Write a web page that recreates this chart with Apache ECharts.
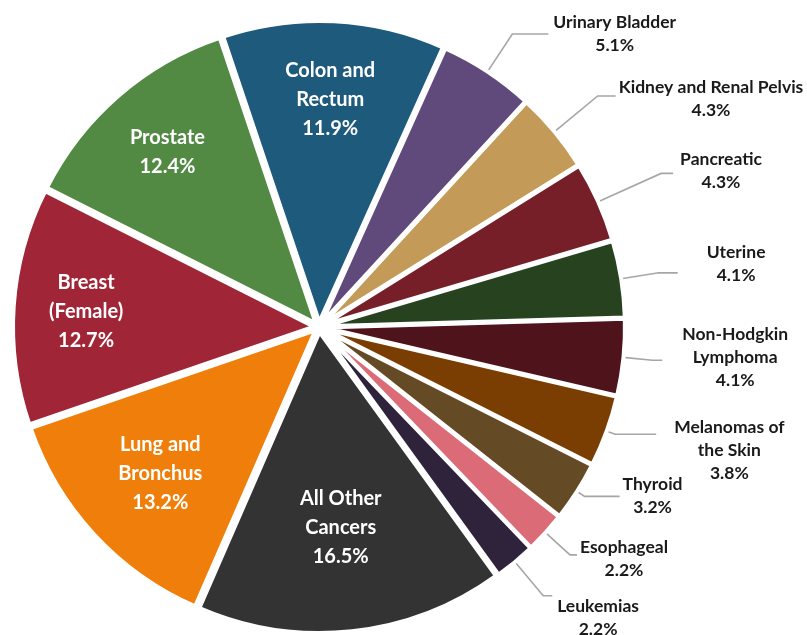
<!DOCTYPE html>
<html><head><meta charset="utf-8">
<script src="https://cdn.jsdelivr.net/npm/echarts@6/dist/echarts.min.js"></script>
<style>html,body{margin:0;padding:0;background:#fff}#c{width:807px;height:635px}</style>
</head><body><div id="c"></div>
<script>
// ---- data ----
const categories = ['Colon and\nRectum','Urinary Bladder','Kidney and Renal Pelvis','Pancreatic','Uterine','Non-Hodgkin\nLymphoma','Melanomas of\nthe Skin','Thyroid','Esophageal','Leukemias','All Other\nCancers','Lung and\nBronchus','Breast\n(Female)','Prostate'];
const values = [11.9,5.1,4.3,4.3,4.1,4.1,3.8,3.2,2.2,2.2,16.5,13.2,12.7,12.4];

// ---- styles ----
const colors = ['#1D5A7C','#604A7B','#C39A57','#771F29','#26421F','#4F131B','#7A3E03','#654B25','#DC6B78','#2F233C','#333333','#EF7F0A','#A02637','#528943'];
const insideLabel = [true,false,false,false,false,false,false,false,false,false,true,true,true,true];
const lineLen  = [0,45,56,69,38,29,9,9,33,44,0,0,0,0];
const lineLen2 = [0,36,18,12,19,10,41,35,7,9,0,0,0,0];
const labelGap = [0,5,3,7,29,20,18,3,3,5,0,0,0,0];
const labelShift = [0,0,3,-3,-9,-3,16,0,4,22,0,0,0,0];
const insideRatio = [0.740,0,0,0,0,0,0,0,0,0,0.654,0.701,0.759,0.752];

const CX = 319, CY = 327, R = 301;
const FONT = 'Lato';

const data = categories.map((name, i) => {
  const item = { name: name, value: values[i], selected: true, itemStyle: { color: colors[i] } };
  if (insideLabel[i]) {
    item.label = {
      position: 'inside',
      color: '#ffffff',
      fontFamily: FONT,
      fontWeight: 'bold',
      fontSize: 20,
      lineHeight: 29
    };
    item.labelLine = { show: false };
  } else {
    const s = labelShift[i];
    item.label = {
      position: 'outside',
      distanceToLabelLine: labelGap[i],
      padding: s >= 0 ? [2 * s, 0, 0, 0] : [0, 0, -2 * s, 0]
    };
    item.labelLine = { show: true, length: lineLen[i], length2: lineLen2[i] };
  }
  return item;
});

const chart = echarts.init(document.getElementById('c'), null, { renderer: 'canvas' });
chart.setOption({
  animation: false,
  backgroundColor: '#ffffff',
  series: [{
    type: 'pie',
    center: [CX, CY],
    radius: R,
    startAngle: 108.6,
    clockwise: true,
    selectedMode: 'multiple',
    selectedOffset: 5,
    avoidLabelOverlap: false,
    emphasis: { disabled: true },
    itemStyle: { borderColor: '#ffffff', borderWidth: 4 },
    label: {
      fontFamily: FONT,
      fontWeight: 'bold',
      fontSize: 17.5,
      color: '#1a1a1a',
      formatter: function (p) {
        if (insideLabel[p.dataIndex]) return p.name + '\n' + p.value.toFixed(1) + '%';
        return p.name.split('\n').map(l => '{t|' + l + '}').join('\n') + '\n{t|' + p.value.toFixed(1) + '%}';
      },
      rich: {
        t: { align: 'center', fontFamily: FONT, fontWeight: 'bold', fontSize: 17.5, lineHeight: 23, color: '#1a1a1a' }
      }
    },
    labelLine: {
      lineStyle: { color: '#A6A6A6', width: 1.6 },
      minTurnAngle: 0,
      maxSurfaceAngle: 180
    },
    labelLayout: function (p) {
      const i = p.dataIndex;
      if (!insideLabel[i]) return {};
      const r = p.labelRect;
      const lx = r.x + r.width / 2, ly = r.y + r.height / 2;
      const vx = lx - CX, vy = ly - CY;
      const d = Math.hypot(vx, vy) || 1;
      const k = insideRatio[i] * R / d;
      return { dx: vx * (k - 1), dy: vy * (k - 1) };
    },
    data: data
  }]
});
</script>
</body></html>
